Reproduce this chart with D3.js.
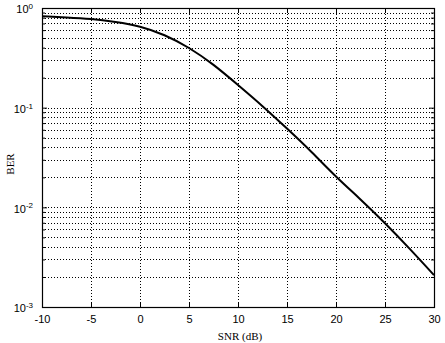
<!DOCTYPE html>
<html>
<head>
<meta charset="utf-8">
<script src="https://cdn.jsdelivr.net/npm/d3@7"></script>
<style>
  body { margin: 0; background: #fff; }
  svg { display: block; }
</style>
</head>
<body>
<div id="chart"></div>
<script>
// values
const snr = [-10, -7.5, -5, -2.5, 0, 2.5, 5, 7.5, 10, 12.5, 15, 17.5, 20, 22.5, 25, 27.5, 30];
const ber = [0.826, 0.805, 0.776, 0.724, 0.649, 0.533, 0.397, 0.2685, 0.1687, 0.1035, 0.0617, 0.0359, 0.0204, 0.0120, 0.00692, 0.00385, 0.00209];
const xTicks = [-10, -5, 0, 5, 10, 15, 20, 25, 30];
const yMajor = [1e-3, 1e-2, 1e-1, 1];
const yExp = ["-3", "-2", "-1", "0"];

const W = 445, H = 343;
const margin = { top: 8, right: 11, bottom: 36, left: 42 };
const sans = "'Liberation Sans', Arial, sans-serif";
const serif = "'Liberation Serif', 'Times New Roman', serif";

const svg = d3.select("#chart").append("svg")
    .attr("width", W)
    .attr("height", H);

const x = d3.scaleLinear()
    .domain([-10, 30])
    .range([margin.left, W - margin.right]);

const y = d3.scaleLog()
    .domain([1e-3, 1])
    .range([H - margin.bottom, margin.top]);

// minor values 2..9 in each decade
const yMinor = [];
yMajor.slice(0, 3).forEach(d => {
    for (let k = 2; k <= 9; k++) yMinor.push(d * k);
});

// grid
const grid = svg.append("g")
    .attr("stroke", "#000")
    .attr("stroke-width", 1)
    .attr("stroke-dasharray", "1,2")
    .attr("shape-rendering", "crispEdges");

grid.selectAll(".vgrid")
    .data(xTicks.slice(1, -1))
    .enter().append("line")
    .attr("x1", d => Math.round(x(d)) + 0.5)
    .attr("x2", d => Math.round(x(d)) + 0.5)
    .attr("y1", y.range()[1])
    .attr("y2", y.range()[0]);

grid.selectAll(".hgrid")
    .data(yMinor.concat(yMajor.slice(1, 3)))
    .enter().append("line")
    .attr("x1", x.range()[0])
    .attr("x2", x.range()[1])
    .attr("y1", d => Math.round(y(d)) + 0.5)
    .attr("y2", d => Math.round(y(d)) + 0.5);

// curve
const line = d3.line()
    .x((d, i) => x(snr[i]))
    .y(d => y(d))
    .curve(d3.curveNatural);

svg.append("path")
    .datum(ber)
    .attr("d", line)
    .attr("fill", "none")
    .attr("stroke", "#000")
    .attr("stroke-width", 2);

// axes, ticks pointing inward
const xb = svg.append("g")
    .attr("transform", `translate(0,${H - margin.bottom})`)
    .call(d3.axisBottom(x).tickValues(xTicks).tickSizeInner(-5).tickSizeOuter(0).tickPadding(8)
        .tickFormat(d => String(d)));

svg.append("g")
    .attr("transform", `translate(0,${margin.top})`)
    .call(d3.axisTop(x).tickValues(xTicks).tickSizeInner(-5).tickSizeOuter(0).tickFormat(""));

const yl = svg.append("g")
    .attr("transform", `translate(${margin.left},0)`)
    .call(d3.axisLeft(y).tickValues(yMajor).tickSizeInner(-5).tickSizeOuter(0).tickPadding(9).tickFormat(""));

svg.append("g")
    .attr("transform", `translate(${margin.left},0)`)
    .call(d3.axisLeft(y).tickValues(yMinor).tickSizeInner(-3).tickSizeOuter(0).tickFormat(""));

svg.append("g")
    .attr("transform", `translate(${W - margin.right},0)`)
    .call(d3.axisRight(y).tickValues(yMajor).tickSizeInner(-5).tickSizeOuter(0).tickFormat(""));

svg.append("g")
    .attr("transform", `translate(${W - margin.right},0)`)
    .call(d3.axisRight(y).tickValues(yMinor).tickSizeInner(-3).tickSizeOuter(0).tickFormat(""));

// box
svg.append("rect")
    .attr("x", x.range()[0] + 0.5)
    .attr("y", y.range()[1] + 0.5)
    .attr("width", x.range()[1] - x.range()[0])
    .attr("height", y.range()[0] - y.range()[1])
    .attr("fill", "none")
    .attr("stroke", "#000")
    .attr("stroke-width", 1.2);

svg.selectAll(".domain").remove();
svg.selectAll(".tick line").attr("stroke", "#000");

xb.selectAll("text")
    .style("font-family", sans)
    .style("font-size", "11px")
    .attr("fill", "#000");

// y labels as 10 with superscript exponent
yl.selectAll(".tick text")
    .style("font-family", sans)
    .style("font-size", "11px")
    .attr("fill", "#000")
    .attr("dy", "0.45em")
    .each(function(d, i) {
        const t = d3.select(this);
        t.append("tspan").text("10");
        t.append("tspan").attr("dy", "-0.55em").style("font-size", "8px").text(yExp[i]);
    });

// axis titles
svg.append("text")
    .attr("x", 240)
    .attr("y", 340)
    .attr("text-anchor", "middle")
    .style("font-family", serif)
    .style("font-size", "11px")
    .text("SNR (dB)");

svg.append("text")
    .attr("transform", "translate(14,164) rotate(-90)")
    .attr("text-anchor", "middle")
    .style("font-family", serif)
    .style("font-size", "11px")
    .text("BER");
</script>
</body>
</html>
